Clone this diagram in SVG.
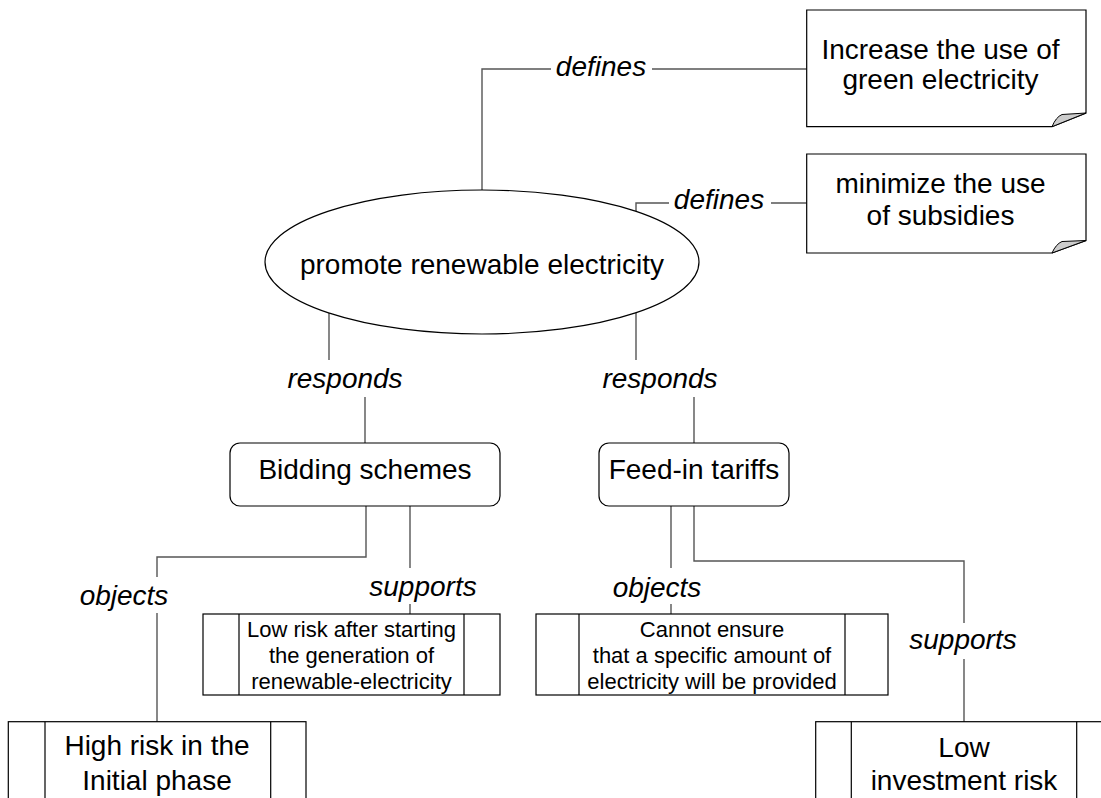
<svg xmlns="http://www.w3.org/2000/svg" width="1101" height="798" viewBox="0 0 1101 798">
  <style>
    .shape { fill: #ffffff; stroke: #000000; stroke-width: 1.2; }
    .fold { fill: #cccccc; stroke: #000000; stroke-width: 1; }
    .bar { stroke: #000000; stroke-width: 1.2; fill: none; }
    .link { fill: none; stroke: #555555; stroke-width: 1.4; }
    .t { font-family: "Liberation Sans", Arial, sans-serif; font-size: 28px; fill: #000000; text-anchor: middle; }
    .s { font-family: "Liberation Sans", Arial, sans-serif; font-size: 22px; fill: #000000; text-anchor: middle; }
    .lbl { font-family: "Liberation Sans", Arial, sans-serif; font-size: 28px; font-style: italic; fill: #000000; text-anchor: middle; }
  </style>
  <rect width="1101" height="798" fill="#ffffff"/>

  <!-- connectors with their labels -->
  <g id="connectors">
    <path class="link" d="M482 190 V69 H551"/>
    <text class="lbl" x="601" y="76">defines</text>
    <path class="link" d="M652 69 H806.7"/>

    <path class="link" d="M636 211 V203 H669"/>
    <text class="lbl" x="719" y="209">defines</text>
    <path class="link" d="M771 203 H806.7"/>

    <path class="link" d="M329 313 V360"/>
    <text class="lbl" x="345" y="388">responds</text>
    <path class="link" d="M365 397 V443"/>

    <path class="link" d="M636 313 V360"/>
    <text class="lbl" x="660" y="388">responds</text>
    <path class="link" d="M694 397 V443"/>

    <path class="link" d="M366 506 V557 H157 V577"/>
    <text class="lbl" x="124" y="605">objects</text>
    <path class="link" d="M157 613 V722"/>

    <path class="link" d="M410 506 V568"/>
    <text class="lbl" x="423" y="596">supports</text>
    <path class="link" d="M410 604 V614"/>

    <path class="link" d="M671 506 V568"/>
    <text class="lbl" x="657" y="597">objects</text>
    <path class="link" d="M671 604 V614"/>

    <path class="link" d="M694 506 V561 H964 V623"/>
    <text class="lbl" x="963" y="649">supports</text>
    <path class="link" d="M964 659 V722"/>
  </g>

  <!-- goal notes with folded corner -->
  <g id="note-green">
    <path class="shape" d="M806.7 10 H1086 V113 L1052 126.7 H806.7 Z"/>
    <path class="fold" d="M1086 113 L1052 126.7 Q1056 117 1062 114.5 Z"/>
    <text class="t" x="940.5" y="59">Increase the use of</text>
    <text class="t" x="940.5" y="89">green electricity</text>
  </g>

  <g id="note-subsidies">
    <path class="shape" d="M806.7 154 H1086 V240.5 L1052 253 H806.7 Z"/>
    <path class="fold" d="M1086 240.5 L1052 253 Q1056 244 1062 241.5 Z"/>
    <text class="t" x="940.5" y="193">minimize the use</text>
    <text class="t" x="940.5" y="225">of subsidies</text>
  </g>

  <!-- central goal -->
  <g id="goal">
    <ellipse class="shape" cx="482" cy="262" rx="217" ry="72"/>
    <text class="t" x="482" y="274">promote renewable electricity</text>
  </g>

  <!-- instruments -->
  <g id="bidding">
    <rect class="shape" x="230" y="443" width="270" height="63" rx="10"/>
    <text class="t" x="365" y="479">Bidding schemes</text>
  </g>

  <g id="feed-in">
    <rect class="shape" x="599" y="443" width="190" height="63" rx="10"/>
    <text class="t" x="694" y="479">Feed-in tariffs</text>
  </g>

  <!-- properties (boxes with side bars) -->
  <g id="low-risk-after">
    <rect class="shape" x="203" y="614" width="297" height="81"/>
    <path class="bar" d="M239 614 V695 M464 614 V695"/>
    <text class="s" x="351.5" y="637">Low risk after starting</text>
    <text class="s" x="351.5" y="663">the generation of</text>
    <text class="s" x="351.5" y="689">renewable-electricity</text>
  </g>

  <g id="cannot-ensure">
    <rect class="shape" x="536" y="614" width="352" height="81"/>
    <path class="bar" d="M579 614 V695 M845 614 V695"/>
    <text class="s" x="712" y="637">Cannot ensure</text>
    <text class="s" x="712" y="663">that a specific amount of</text>
    <text class="s" x="712" y="689">electricity will be provided</text>
  </g>

  <g id="high-risk">
    <rect class="shape" x="8.3" y="721.7" width="297.7" height="100"/>
    <path class="bar" d="M45 721.7 V821.7 M270.7 721.7 V821.7"/>
    <text class="t" x="157" y="755">High risk in the</text>
    <text class="t" x="157" y="790">Initial phase</text>
  </g>

  <g id="low-investment">
    <rect class="shape" x="815.7" y="721.7" width="297" height="100"/>
    <path class="bar" d="M851.3 721.7 V821.7 M1076.7 721.7 V821.7"/>
    <text class="t" x="964" y="756.7">Low</text>
    <text class="t" x="964" y="790">investment risk</text>
  </g>
</svg>
